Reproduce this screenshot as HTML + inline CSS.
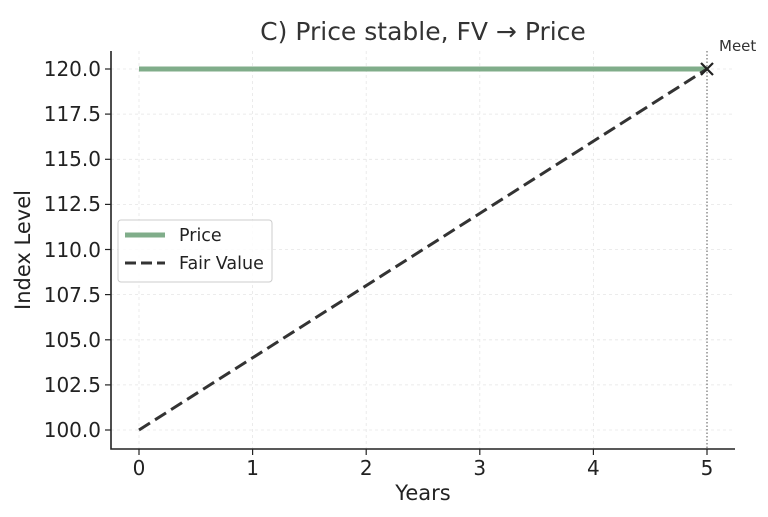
<!DOCTYPE html>
<html><head><style>body{margin:0;background:#fff}svg{display:block}</style></head><body>
<svg width="768" height="517" xmlns="http://www.w3.org/2000/svg" font-family="DejaVu Sans, Liberation Sans, sans-serif">
<rect width="768" height="517" fill="#fff"/>
<g stroke="#e6e6e6" stroke-width="0.8" stroke-dasharray="3,3">
<line x1="139" y1="51" x2="139" y2="449"/><line x1="252.6" y1="51" x2="252.6" y2="449"/><line x1="366.2" y1="51" x2="366.2" y2="449"/><line x1="479.8" y1="51" x2="479.8" y2="449"/><line x1="593.4" y1="51" x2="593.4" y2="449"/>
<line x1="111" y1="430" x2="735" y2="430"/><line x1="111" y1="384.9" x2="735" y2="384.9"/><line x1="111" y1="339.8" x2="735" y2="339.8"/><line x1="111" y1="294.6" x2="735" y2="294.6"/><line x1="111" y1="249.5" x2="735" y2="249.5"/><line x1="111" y1="204.4" x2="735" y2="204.4"/><line x1="111" y1="159.3" x2="735" y2="159.3"/><line x1="111" y1="114.1" x2="735" y2="114.1"/><line x1="111" y1="69" x2="735" y2="69"/>
</g>
<line x1="707" y1="51" x2="707" y2="449" stroke="#555" stroke-width="1" stroke-dasharray="1.5,2"/>
<line x1="139" y1="69" x2="707" y2="69" stroke="#80ad8a" stroke-width="5"/>
<line x1="139" y1="430" x2="707" y2="69" stroke="#333" stroke-width="3" stroke-dasharray="13,6"/>
<g stroke="#222" stroke-width="2.2"><line x1="701" y1="63" x2="713" y2="75"/><line x1="713" y1="63" x2="701" y2="75"/></g>
<text x="719" y="51" font-size="15" fill="#333">Meet</text>
<g stroke="#222" stroke-width="1.6" fill="none"><path d="M111 51V449H735"/></g>
<g stroke="#222" stroke-width="1.2">
<line x1="139" y1="449" x2="139" y2="455"/><line x1="252.6" y1="449" x2="252.6" y2="455"/><line x1="366.2" y1="449" x2="366.2" y2="455"/><line x1="479.8" y1="449" x2="479.8" y2="455"/><line x1="593.4" y1="449" x2="593.4" y2="455"/><line x1="707" y1="449" x2="707" y2="455"/>
<line x1="105" y1="430" x2="111" y2="430"/><line x1="105" y1="384.9" x2="111" y2="384.9"/><line x1="105" y1="339.8" x2="111" y2="339.8"/><line x1="105" y1="294.6" x2="111" y2="294.6"/><line x1="105" y1="249.5" x2="111" y2="249.5"/><line x1="105" y1="204.4" x2="111" y2="204.4"/><line x1="105" y1="159.3" x2="111" y2="159.3"/><line x1="105" y1="114.1" x2="111" y2="114.1"/><line x1="105" y1="69" x2="111" y2="69"/>
</g>
<g font-size="20" fill="#222" text-anchor="middle">
<text x="139" y="475">0</text><text x="252.6" y="475">1</text><text x="366.2" y="475">2</text><text x="479.8" y="475">3</text><text x="593.4" y="475">4</text><text x="707" y="475">5</text>
</g>
<g font-size="20" fill="#222" text-anchor="end">
<text x="101" y="437">100.0</text><text x="101" y="392">102.5</text><text x="101" y="347">105.0</text><text x="101" y="302">107.5</text><text x="101" y="257">110.0</text><text x="101" y="211">112.5</text><text x="101" y="166">115.0</text><text x="101" y="121">117.5</text><text x="101" y="76">120.0</text>
</g>
<text x="423" y="500" font-size="21" fill="#222" text-anchor="middle">Years</text>
<text transform="translate(30,250) rotate(-90)" font-size="21" fill="#222" text-anchor="middle">Index Level</text>
<text x="423" y="40" font-size="25" fill="#333" text-anchor="middle">C) Price stable, FV → Price</text>
<rect x="118" y="220" width="154" height="62" rx="3" fill="#fff" fill-opacity="0.85" stroke="#ccc"/>
<line x1="125" y1="235" x2="165" y2="235" stroke="#80ad8a" stroke-width="5"/>
<line x1="125" y1="263" x2="165" y2="263" stroke="#333" stroke-width="3" stroke-dasharray="11,5"/>
<text x="179" y="241" font-size="17.5" fill="#222">Price</text>
<text x="179" y="269" font-size="17.5" fill="#222">Fair Value</text>
</svg>
</body></html>
